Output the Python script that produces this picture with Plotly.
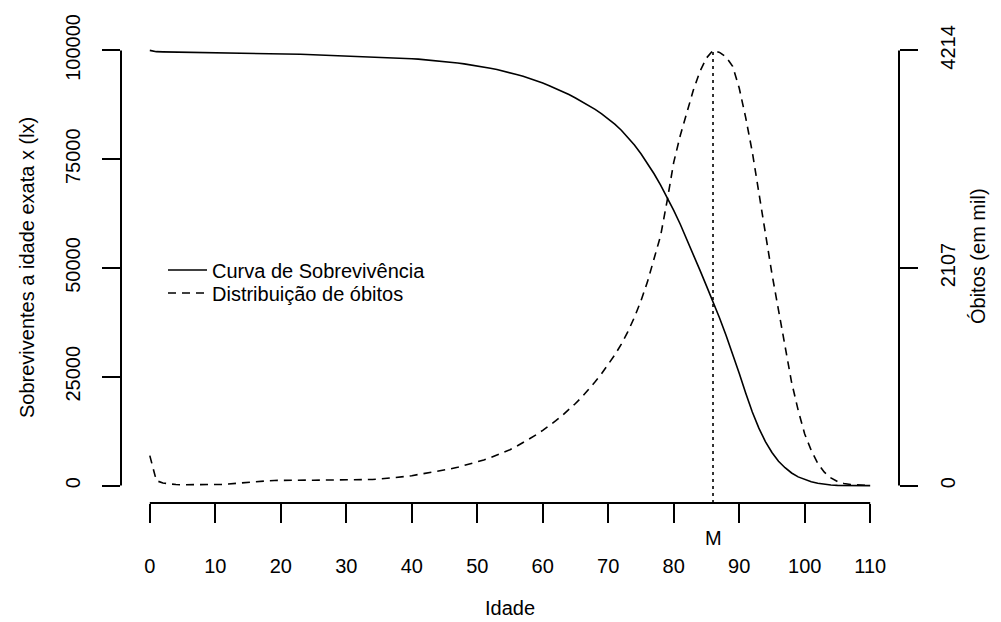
import plotly.graph_objects as go

# ---------------- data ----------------
ages = list(range(0, 111))

# survivors at exact age x (lx), radix 100000
survivors = [
    100000, 99710, 99662, 99637, 99622, 99612, 99604, 99596, 99588, 99580,
    99571, 99561, 99549, 99533, 99511, 99483, 99450, 99412, 99370, 99324,
    99274, 99222, 99169, 99115, 99061, 99008, 98956, 98904, 98852, 98799,
    98745, 98693, 98640, 98586, 98530, 98471, 98408, 98340, 98266, 98186,
    98100, 97990, 97870, 97740, 97600, 97450, 97280, 97100, 96900, 96680,
    96450, 96190, 95910, 95600, 95260, 94890, 94480, 94040, 93560, 93050,
    92500, 91900, 91260, 90580, 89850, 89070, 88250, 87380, 86440, 85420,
    84300, 83050, 81650, 80050, 78250, 76250, 74050, 71650, 69050, 66250,
    63250, 60050, 56650, 53100, 49500, 45900, 42300, 38500, 34500, 30300,
    25800, 21200, 16900, 13200, 10100, 7600, 5600, 4100, 2900, 2000,
    1350, 880, 520, 270, 120, 50, 20, 8, 3, 1, 0,
]

# deaths by age (dx)
deaths = [
    290, 48, 25, 15, 10, 8, 8, 8, 8, 9,
    10, 12, 16, 22, 28, 33, 38, 42, 46, 50,
    52, 53, 54, 54, 53, 52, 52, 52, 52, 52,
    52, 53, 54, 56, 59, 63, 68, 74, 80, 88,
    96, 106, 116, 127, 138, 150, 163, 177, 193, 210,
    228, 248, 270, 294, 320, 348, 380, 415, 452, 492,
    535, 580, 628, 680, 735, 795, 860, 930, 1005, 1085,
    1170, 1265, 1370, 1490, 1630, 1790, 1975, 2185, 2420, 2760,
    3130, 3390, 3600, 3830, 4010, 4140, 4214, 4195, 4150, 4060,
    3850, 3560, 3230, 2840, 2420, 2050, 1700, 1330, 1000, 730,
    500, 340, 215, 130, 75, 40, 20, 10, 5, 2, 1,
]

modal_age = 86
x_ticks = [0, 10, 20, 30, 40, 50, 60, 70, 80, 90, 100, 110]
y_ticks = [0, 25000, 50000, 75000, 100000]
y2_ticks = [0, 2107, 4214]

# ------------- ranges (R style 4% expansion) -------------
def expand(lo, hi, f=0.04):
    d = (hi - lo) * f
    return [lo - d, hi + d]

xr = expand(x_ticks[0], x_ticks[-1])
yr = expand(y_ticks[0], y_ticks[-1])
y2r = expand(y2_ticks[0], y2_ticks[-1])

FONT = "Liberation Sans, Arial, sans-serif"
W, H = 1001, 622
ML, MR, MT, MB = 121, 102, 33, 119
PW, PH = W - ML - MR, H - MT - MB

def px_x(px):
    return (px - ML) / PW

def px_y(py):
    return (H - MB - py) / PH

fig = go.Figure()
fig.add_trace(go.Scatter(
    x=ages, y=survivors, mode="lines", name="Curva de Sobrevivência",
    line=dict(color="black", width=1.6), yaxis="y", legend="legend"))
fig.add_trace(go.Scatter(
    x=ages, y=deaths, mode="lines", name="Distribuição de óbitos",
    line=dict(color="black", width=1.6, dash="8px,6px"), yaxis="y2",
    legend="legend2"))
fig.add_trace(go.Scatter(
    x=[modal_age, modal_age], y=[y2r[0], max(deaths)], mode="lines",
    showlegend=False, line=dict(color="black", width=1.6, dash="3px,4px"),
    yaxis="y2"))

axis_common = dict(showgrid=False, zeroline=False, showline=False,
                   ticks="outside", tickcolor="black", tickwidth=2,
                   tickfont=dict(family=FONT, size=20, color="black"))

legend_common = dict(xanchor="left", yanchor="middle", bgcolor="rgba(0,0,0,0)",
                     borderwidth=0, itemwidth=39,
                     font=dict(family=FONT, size=20, color="black"))

fig.update_layout(
    width=W, height=H,
    margin=dict(l=ML, r=MR, t=MT, b=MB, pad=0),
    paper_bgcolor="white", plot_bgcolor="white",
    font=dict(family=FONT, size=20, color="black"),
    xaxis=dict(range=xr, tickvals=x_ticks, ticktext=[str(v) for v in x_ticks],
               ticklen=19, ticklabelstandoff=26, **axis_common),
    yaxis=dict(range=yr, tickvals=y_ticks, ticktext=[str(v) for v in y_ticks],
               ticklen=18, tickangle=-90, ticklabelstandoff=14, **axis_common),
    yaxis2=dict(range=y2r, tickvals=y2_ticks, ticktext=[str(v) for v in y2_ticks],
                ticklen=18, tickangle=-90, ticklabelstandoff=13,
                overlaying="y", side="right", **axis_common),
    showlegend=True,
    legend=dict(x=px_x(163), y=px_y(270), **legend_common),
    legend2=dict(x=px_x(163), y=px_y(293), **legend_common),
)

# axis lines drawn from first to last tick, like base R
fig.add_shape(type="line", xref="x", yref="paper", x0=x_ticks[0], x1=x_ticks[-1],
              y0=0, y1=0, line=dict(color="black", width=2))
fig.add_shape(type="line", xref="paper", yref="y", x0=0, x1=0,
              y0=y_ticks[0], y1=y_ticks[-1], line=dict(color="black", width=2))
fig.add_shape(type="line", xref="paper", yref="y2", x0=1, x1=1,
              y0=y2_ticks[0], y1=y2_ticks[-1], line=dict(color="black", width=2))

fig.add_annotation(x=modal_age, xref="x", y=px_y(538), yref="paper", text="M",
                   showarrow=False, yanchor="middle", font=dict(size=20))
fig.add_annotation(x=0.5, xref="paper", y=px_y(608), yref="paper", text="Idade",
                   showarrow=False, yanchor="middle", font=dict(size=20))
fig.add_annotation(x=px_x(27), xref="paper", y=0.5, yref="paper",
                   text="Sobreviventes a idade exata x (lx)", textangle=-90,
                   showarrow=False, xanchor="center", yanchor="middle", font=dict(size=20))
fig.add_annotation(x=px_x(978), xref="paper", y=px_y(256), yref="paper",
                   text="Óbitos (em mil)", textangle=-90,
                   showarrow=False, xanchor="center", yanchor="middle", font=dict(size=20))

fig.write_html("out.html")
